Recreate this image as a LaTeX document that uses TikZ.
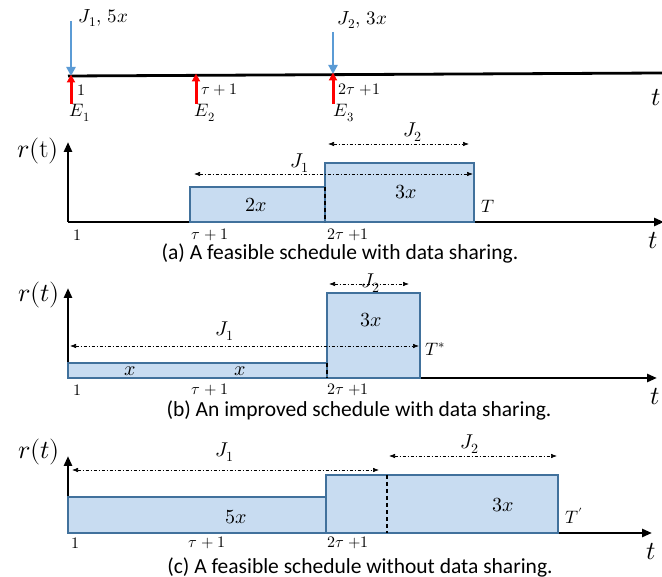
\documentclass[tikz,border=0pt]{standalone}
\usepackage{fontspec}
\usepackage{unicode-math}
\setmathfont{Latin Modern Math}
\newfontfamily\capfont{Carlito}
\usetikzlibrary{arrows.meta}
\definecolor{boxfill}{RGB}{200,220,241}
\definecolor{boxline}{RGB}{65,113,156}
\definecolor{jobblue}{RGB}{91,155,213}
\newcommand{\fs}[1]{\fontsize{#1}{#1}\selectfont}

\begin{document}
\begin{tikzpicture}[x=1pt, y=-1pt,
        axisline/.style={line width=2.6pt, -{Triangle[length=10pt,width=8pt]}},
        jobbox/.style={draw=boxline, line width=1.1pt, fill=boxfill},
        extent/.style={line width=0.6pt, dash pattern=on 3pt off 2pt on 1pt off 2pt,
            {Latex[length=6pt,width=4.5pt]}-{Latex[length=6pt,width=4.5pt]}},
        split/.style={line width=1.5pt, dash pattern=on 4pt off 3pt},
        jobarrow/.style={jobblue, line width=2.4pt, -{Triangle[length=9pt,width=9pt]}},
        evarrow/.style={red, line width=3pt, -{Triangle[length=8pt,width=8pt]}},
        ticklbl/.style={font=\fs{16}, inner sep=0.5pt},
        caption/.style={font=\capfont\fs{21.5}, inner sep=0.5pt}]
    \useasboundingbox (0,0) rectangle (662,577);

    % arrival and event timeline
    \coordinate (e1) at (71,76);
    \coordinate (e2) at (196,75);
    \coordinate (e3) at (333,74);
    \draw [line width=2.8pt] (68,76) -- (662,73);
    \node (tt) at (656,98) {\fs{26}$t$};
    \draw [jobarrow] (71,21) -- (e1);
    \draw [jobarrow] (333,32) -- (e3);
    \node (j1in) [anchor=west] at (75,18) {\fs{19}$J_1,\,5x$};
    \node (j2in) [anchor=west] at (334,20) {\fs{19}$J_2,\,3x$};
    \draw [evarrow] (71,104) -- ([yshift=1.5pt]e1);
    \draw [evarrow] (196,104) -- ([yshift=1.5pt]e2);
    \draw [evarrow] (333,104) -- ([yshift=1.5pt]e3);
    \node (s1) [ticklbl, anchor=west] at (77,90) {$1$};
    \node (s2) [ticklbl, anchor=west] at (201,90) {$\tau+1$};
    \node (s3) [ticklbl, anchor=west] at (338,90) {$2\tau\;{+}1$};
    \node (E1) at (80,113) {\fs{18}$E_1$};
    \node (E2) at (205,113) {\fs{18}$E_2$};
    \node (E3) at (344,113) {\fs{18}$E_3$};

    % (a) feasible schedule, data sharing
    \coordinate (a0) at (68,222);
    \draw [axisline] (a0) -- (68,142);
    \draw [axisline] (a0) -- (664,222);
    \node (ra) at (38,151) {\fs{26}$r(\mathrm{t})$};
    \draw [jobbox] (190,222) rectangle (325,187);
    \draw [jobbox] (325,222) rectangle (474,163);
    \draw [split] (325,187) -- (325,222);
    \coordinate (a1l) at (194,174);
    \coordinate (a1r) at (473,174);
    \coordinate (a2l) at (328,144);
    \coordinate (a2r) at (469,144);
    \draw [extent] (a1l) -- (a1r);
    \draw [extent] (a2l) -- (a2r);
    \node (ja1) at (300,163) {\fs{20}$J_1$};
    \node (ja2) at (413,132) {\fs{20}$J_2$};
    \node (wa1) at (256,205) {\fs{20}$2x$};
    \node (wa2) at (406,192) {\fs{20}$3x$};
    \node (Ta) at (488,206) {\fs{18}$T$};
    \node [ticklbl] at (77,235) {$1$};
    \node [ticklbl] at (210,235) {$\tau+1$};
    \node [ticklbl] at (348,235) {$2\tau\;{+}1$};
    \node (ta) at (653,241) {\fs{26}$t$};
    \node (capa) [caption] at (340,253) {(a) A feasible schedule with data sharing.};

    % (b) improved schedule, data sharing
    \coordinate (b0) at (68,378);
    \draw [axisline] (b0) -- (68,288);
    \draw [axisline] (b0) -- (657,378);
    \node (rb) at (39,295) {\fs{26}$r(t)$};
    \draw [jobbox] (68,378) rectangle (327,363);
    \draw [jobbox] (327,378) rectangle (420,293);
    \draw [split] (327,363) -- (327,378);
    \coordinate (b1l) at (70,346);
    \coordinate (b1r) at (419,346);
    \coordinate (b2l) at (329,284);
    \coordinate (b2r) at (409,284);
    \draw [extent] (b1l) -- (b1r);
    \draw [extent] (b2l) -- (b2r);
    \node (jb1) at (225,331) {\fs{20}$J_1$};
    \node (jb2) at (371,283) {\fs{20}$J_2$};
    \node (wb1) at (130,371) {\fs{20}$x$};
    \node (wb2) at (240,371) {\fs{20}$x$};
    \node (wb3) at (371,320) {\fs{20}$3x$};
    \node (Tb) at (435,349) {\fs{18}$T^{*}$};
    \node [ticklbl] at (77,390) {$1$};
    \node [ticklbl] at (210,390) {$\tau+1$};
    \node [ticklbl] at (348,390) {$2\tau\;{+}1$};
    \node (tb) at (655,397) {\fs{26}$t$};
    \node (capb) [caption] at (359,410) {(b) An improved schedule with data sharing.};

    % (c) feasible schedule, no data sharing
    \coordinate (c0) at (68,533);
    \draw [axisline] (c0) -- (68,456);
    \draw [axisline] (c0) -- (652,533);
    \node (rc) at (39,452) {\fs{26}$r(t)$};
    \draw [jobbox] (68,533) rectangle (326,497);
    \draw [jobbox] (326,533) rectangle (558,475);
    \draw [split] (387,475) -- (387,533);
    \coordinate (c1l) at (72,470);
    \coordinate (c1r) at (379,470);
    \coordinate (c2l) at (389,456);
    \coordinate (c2r) at (557,456);
    \draw [extent] (c1l) -- (c1r);
    \draw [extent] (c2l) -- (c2r);
    \node (jc1) at (225,452) {\fs{20}$J_1$};
    \node (jc2) at (470,444) {\fs{20}$J_2$};
    \node (wc1) at (236,517) {\fs{20}$5x$};
    \node (wc2) at (503,505) {\fs{20}$3x$};
    \node (Tc) at (574,516) {\fs{18}$T^{\prime}$};
    \node [ticklbl] at (75,543) {$1$};
    \node [ticklbl] at (207,543) {$\tau+1$};
    \node [ticklbl] at (348,543) {$2\tau\;{+}1$};
    \node (tc) at (651,552) {\fs{26}$t$};
    \node (capc) [caption] at (360,567) {(c) A feasible schedule without data sharing.};
\end{tikzpicture}
\end{document}
